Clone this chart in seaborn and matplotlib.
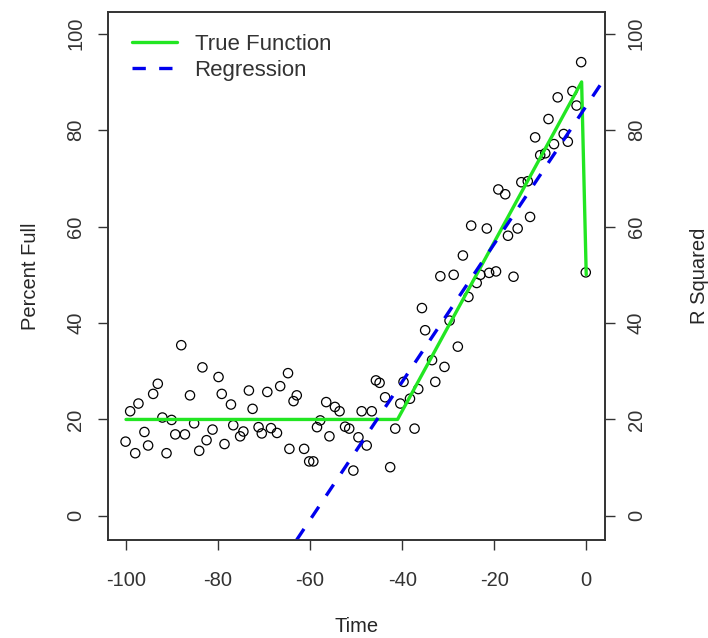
# Basics
import numpy as np
import pandas as pd

# Visualization
import matplotlib
matplotlib.use('Agg')
import matplotlib.pyplot as plt
import seaborn as sns

time = [-100.1, -99.1, -98.0, -97.3, -96.0, -95.2, -94.1, -93.1, -92.1, -91.2,
        -90.1, -89.3, -88.0, -87.2, -86.1, -85.2, -84.1, -83.4, -82.5, -81.2,
        -79.9, -79.2, -78.6, -77.2, -76.7, -75.2, -74.5, -73.3, -72.5, -71.2,
        -70.5, -69.3, -68.5, -67.2, -66.5, -64.8, -64.5, -63.6, -62.9, -61.3,
        -60.2, -59.3, -58.5, -57.8, -56.5, -55.8, -54.6, -53.6, -52.4, -51.5,
        -50.6, -49.5, -48.8, -47.7, -46.6, -45.7, -44.9, -43.7, -42.6, -41.5,
        -40.4, -39.7, -38.3, -37.3, -36.5, -35.7, -35.0, -33.5, -32.8, -31.7,
        -30.8, -29.7, -28.8, -27.9, -26.8, -25.6, -25.0, -23.8, -23.0, -21.6,
        -21.1, -19.6, -19.1, -17.6, -17.0, -15.8, -14.9, -14.1, -12.7, -12.2,
        -11.1, -10.0, -8.9, -8.2, -7.0, -6.2, -4.9, -4.0, -3.0, -2.1,
        -1.1, -0.1]
percent_full = [15.4, 21.7, 13.0, 23.3, 17.4, 14.6, 25.3, 27.4, 20.4, 13.0,
                19.9, 16.9, 35.4, 16.9, 25.0, 19.2, 13.5, 30.8, 15.7, 17.9,
                28.8, 25.3, 14.9, 23.1, 18.8, 16.5, 17.5, 26.0, 22.2, 18.4,
                17.1, 25.7, 18.2, 17.2, 26.9, 29.6, 13.9, 23.8, 25.0, 13.9,
                11.3, 11.3, 18.4, 19.8, 23.6, 16.5, 22.6, 21.7, 18.5, 18.1,
                9.4, 16.3, 21.7, 14.6, 21.7, 28.1, 27.6, 24.6, 10.1, 18.1,
                23.3, 27.8, 24.3, 18.1, 26.3, 43.1, 38.5, 32.3, 27.8, 49.7,
                30.9, 40.5, 50.0, 35.1, 54.0, 45.4, 60.2, 48.3, 50.0, 59.6,
                50.4, 50.7, 67.7, 66.7, 58.1, 49.6, 59.6, 69.2, 69.4, 62.0,
                78.5, 74.8, 75.2, 82.3, 77.1, 86.8, 79.2, 77.6, 88.1, 85.1,
                94.1, 50.5]

# True function corners
true_time = [-100, -41, -1, 0]
true_value = [20, 20, 90, 50]

# Regression line
reg_intercept = 85.0
reg_slope = 1.43

# Axes
x_ticks = [-100, -80, -60, -40, -20, 0]
y_ticks = [0, 20, 40, 60, 80, 100]

sns.set_style('white')
plt.rcParams['font.family'] = ['Liberation Sans', 'DejaVu Sans']
plt.rcParams['font.size'] = 14.5
plt.rcParams['axes.unicode_minus'] = False
plt.rcParams['text.color'] = '#333333'
plt.rcParams['xtick.color'] = '#333333'
plt.rcParams['ytick.color'] = '#333333'

points = pd.DataFrame({'Time': time, 'Percent Full': percent_full})
truth = pd.DataFrame({'Time': true_time, 'Value': true_value})

fig = plt.figure(figsize=(7.08, 6.38), dpi=100)
ax = fig.add_axes([0.152, 0.1536, 0.702, 0.8276])

# Scatter of the observations
sns.scatterplot(data=points, x='Time', y='Percent Full', ax=ax, s=45,
                facecolor='none', edgecolor='black', linewidth=0.9, zorder=3)

# True function and regression
sns.lineplot(data=truth, x='Time', y='Value', ax=ax, color='#22e622', lw=2.4,
             sort=False, label='True Function', zorder=4)
ax.axline((0, reg_intercept), slope=reg_slope, color='#0000ee', lw=2.4,
          ls=(0, (4, 4)), label='Regression', zorder=4)

# Formatting
ax.set_xlim(-104, 4)
ax.set_ylim(-5, 104.5)
ax.set_xticks(x_ticks)
ax.set_yticks(y_ticks)
ax.set_xlabel('Time', labelpad=20)
ax.set_ylabel('Percent Full', labelpad=19)
ax.tick_params(axis='both', direction='out', length=7, width=1,
               bottom=True, left=True)
ax.tick_params(axis='x', pad=15)
ax.tick_params(axis='y', pad=9, labelrotation=90)
for lab in ax.get_yticklabels():
    lab.set_va('center')

# Right axis
ax2 = ax.twinx()
ax2.set_ylim(-5, 104.5)
ax2.set_yticks(y_ticks)
ax2.set_ylabel('R Squared', labelpad=32)
ax2.tick_params(axis='y', direction='out', length=7, width=1,
                right=True, pad=9, labelrotation=90)
for lab in ax2.get_yticklabels():
    lab.set_va('center')

for a in (ax, ax2):
    for spine in a.spines.values():
        spine.set_color('#333333')
        spine.set_linewidth(1.2)

ax.legend(loc='upper left', frameon=False, fontsize=16, handlelength=2.0,
          handletextpad=0.8, labelspacing=0.2, borderaxespad=0.6,
          bbox_to_anchor=(0.005, 1.0))

fig.savefig('out.png', dpi=100)
